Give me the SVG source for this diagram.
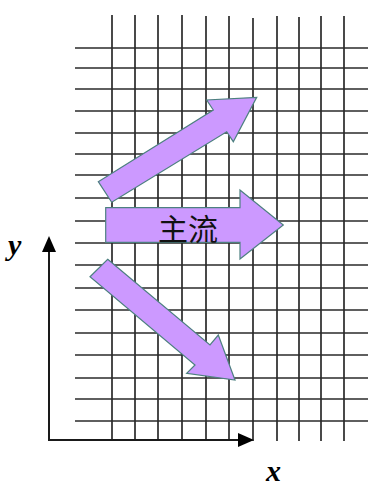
<svg xmlns="http://www.w3.org/2000/svg" width="368" height="487" viewBox="0 0 368 487">
<style>
.grid line{stroke:#2a2a2a;stroke-width:1.7}
.arrow{fill:#CC99FF;stroke:#4d8080;stroke-width:1.2;stroke-linejoin:miter}
.axis{stroke:#1a1a1a;stroke-width:2;fill:none}
.lbl{font-family:"Liberation Serif","DejaVu Serif",serif;font-style:italic;font-weight:bold;font-size:30px;fill:#000}
.cjk{font-family:"Noto Sans CJK SC","Noto Sans CJK JP",sans-serif;font-size:30px;fill:#111}
</style>
<rect width="368" height="487" fill="#fff"/>
<g id="grid" class="grid">
<line x1="112" y1="15" x2="112" y2="441"/>
<line x1="135" y1="15" x2="135" y2="441"/>
<line x1="158" y1="15" x2="158" y2="441"/>
<line x1="182" y1="15" x2="182" y2="441"/>
<line x1="206" y1="16" x2="206" y2="441"/>
<line x1="229" y1="16" x2="229" y2="441"/>
<line x1="253" y1="18" x2="253" y2="441"/>
<line x1="277" y1="16" x2="277" y2="441"/>
<line x1="299" y1="17" x2="299" y2="441"/>
<line x1="321" y1="16" x2="321" y2="441"/>
<line x1="344" y1="16" x2="344" y2="441"/>
<line x1="75" y1="48" x2="368" y2="48"/>
<line x1="75" y1="68" x2="368" y2="68"/>
<line x1="75" y1="89" x2="368" y2="89"/>
<line x1="75" y1="111" x2="368" y2="111"/>
<line x1="75" y1="133" x2="368" y2="133"/>
<line x1="75" y1="154" x2="368" y2="154"/>
<line x1="75" y1="175" x2="368" y2="175"/>
<line x1="75" y1="198" x2="368" y2="198"/>
<line x1="75" y1="221" x2="368" y2="221"/>
<line x1="75" y1="243" x2="368" y2="243"/>
<line x1="75" y1="265" x2="368" y2="265"/>
<line x1="75" y1="288" x2="368" y2="288"/>
<line x1="75" y1="310" x2="368" y2="310"/>
<line x1="75" y1="333" x2="368" y2="333"/>
<line x1="75" y1="355" x2="368" y2="355"/>
<line x1="75" y1="378" x2="368" y2="378"/>
<line x1="75" y1="399" x2="368" y2="399"/>
<line x1="75" y1="421" x2="368" y2="421"/>
</g>
<g id="axes">
<line class="axis" x1="49" y1="441" x2="49" y2="250"/>
<polygon points="49,236 42,252 56,252" fill="#000"/>
<line class="axis" x1="48" y1="440" x2="239" y2="440"/>
<polygon points="254,440 238,433 238,447" fill="#000"/>
<text class="lbl" x="8" y="255">y</text>
<text class="lbl" x="266" y="481">x</text>
</g>
<g id="arrow-up">
<polygon class="arrow" points="98.3,181.7 213.3,110 206.7,100 256.7,97.3 233.3,141.7 226.7,131.7 111.7,202.3"/>
</g>
<g id="arrow-main">
<polygon class="arrow" points="105.7,207.7 240,207.7 240,190 283.3,225 240,259 240,242.3 105.7,242.3"/>
<text class="cjk" x="188" y="240" text-anchor="middle">主流</text>
</g>
<g id="arrow-down">
<polygon class="arrow" points="107.7,259.3 210,345 218.3,335 235,380 186.7,373.3 195,365 90,276.7"/>
</g>
</svg>
